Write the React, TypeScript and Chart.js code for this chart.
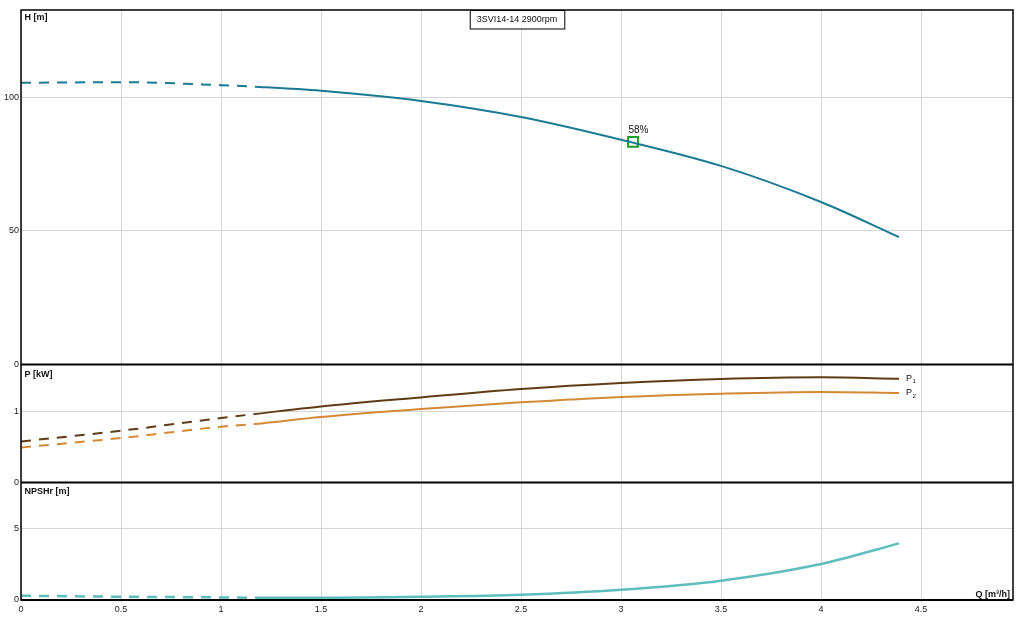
import React, { useEffect, useRef } from 'react'
import Chart from 'chart.js/auto'

// flow points (m³/h)
const flow = [0, 0.5, 1, 1.17, 1.5, 2, 2.5, 3, 3.5, 4, 4.39]
const head = [105.4, 105.6, 104.5, 103.9, 102.4, 98.6, 92.6, 84.1, 74.3, 60.8, 47.7]
const powerP1 = [0.577, 0.728, 0.907, 0.963, 1.07, 1.197, 1.315, 1.4, 1.456, 1.479, 1.46]
const powerP2 = [0.493, 0.625, 0.785, 0.823, 0.921, 1.034, 1.127, 1.203, 1.249, 1.273, 1.259]
const npshr = [0.3, 0.23, 0.18, 0.16, 0.16, 0.23, 0.37, 0.72, 1.36, 2.53, 3.98]

const dashedUntil = 1.17
const dutyQ = 3.06
const dutyH = 83.3
const dutyLabel = '58%'

const xTicks = [0, 0.5, 1, 1.5, 2, 2.5, 3, 3.5, 4, 4.5]
const headTicks = [0, 50, 100]
const powerTicks = [0, 1]
const npshTicks = [0, 5]

const title = '3SVI14-14 2900rpm'

const FONT = '"Liberation Sans", Arial, sans-serif'

const pts = (ys: number[]) => flow.map((x, i) => ({ x, y: ys[i] }))

const dashSegment = {
  borderDash: (ctx: any) => (ctx.p1.parsed.x <= dashedUntil + 1e-6 ? [10, 8] : undefined)
}

const setTicks = (values: number[]) => (scale: any) => {
  scale.ticks = values.map((v) => ({ value: v }))
}

const overlay = {
  id: 'overlay',
  afterDraw(chart: any) {
    const { ctx, chartArea: a, scales } = chart
    ctx.save()

    // panel dividers
    ctx.strokeStyle = '#000'
    ctx.lineWidth = 2
    ;[scales.yH.bottom, scales.yP.bottom, a.bottom].forEach((y: number) => {
      ctx.beginPath()
      ctx.moveTo(a.left, y)
      ctx.lineTo(a.right, y)
      ctx.stroke()
    })
    ctx.lineWidth = 1.5
    ctx.strokeRect(a.left, a.top, a.right - a.left, a.bottom - a.top)

    // title box
    ctx.font = '9px ' + FONT
    const tw = ctx.measureText(title).width
    const bw = tw + 14
    const bx = (a.left + a.right) / 2 - bw / 2
    ctx.fillStyle = '#fff'
    ctx.fillRect(bx, a.top, bw, 19)
    ctx.lineWidth = 1
    ctx.strokeRect(bx + 0.5, a.top + 0.5, bw, 18.5)
    ctx.fillStyle = '#111'
    ctx.textBaseline = 'middle'
    ctx.textAlign = 'center'
    ctx.fillText(title, (a.left + a.right) / 2, a.top + 10)

    // panel labels
    ctx.font = 'bold 9px ' + FONT
    ctx.textAlign = 'left'
    ctx.textBaseline = 'top'
    ctx.fillText('H [m]', a.left + 3.5, scales.yH.top + 3.5)
    ctx.fillText('P [kW]', a.left + 3.5, scales.yP.top + 5)
    ctx.fillText('NPSHr [m]', a.left + 3.5, scales.yN.top + 5)
    ctx.textAlign = 'right'
    ctx.textBaseline = 'alphabetic'
    ctx.fillText('Q [m³/h]', a.right - 3, a.bottom - 3)

    // duty point label
    const mx = scales.x.getPixelForValue(dutyQ)
    const my = scales.yH.getPixelForValue(dutyH)
    ctx.font = '10px ' + FONT
    ctx.textAlign = 'left'
    ctx.fillText(dutyLabel, mx - 4.5, my - 9)

    // P1 / P2 end labels
    const last = flow.length - 1
    const ex = scales.x.getPixelForValue(flow[last]) + 7
    ;[
      [powerP1[last], '1'],
      [powerP2[last], '2']
    ].forEach(([v, sub]) => {
      const y = scales.yP.getPixelForValue(v as number)
      ctx.font = '9px ' + FONT
      ctx.textBaseline = 'middle'
      ctx.fillText('P', ex, y)
      const pw = ctx.measureText('P').width
      ctx.font = '6px ' + FONT
      ctx.fillText(sub as string, ex + pw + 0.5, y + 3)
    })

    ctx.restore()
  }
}

const PumpCurveChart: React.FC = () => {
  const canvasRef = useRef<HTMLCanvasElement | null>(null)

  useEffect(() => {
    if (!canvasRef.current) return
    Chart.defaults.font.family = FONT

    const tickFont = { size: 9, family: FONT }
    const grid = { color: '#d6d6d6', lineWidth: 1, drawTicks: false }
    const fixWidth = (s: any) => {
      s.width = 21
    }

    const chart = new Chart(canvasRef.current, {
      type: 'line',
      data: {
        datasets: [
          {
            label: 'H',
            data: pts(head),
            yAxisID: 'yH',
            borderColor: '#1b7a94',
            borderWidth: 2,
            pointRadius: 0,
            cubicInterpolationMode: 'monotone',
            segment: dashSegment
          },
          {
            label: 'P1',
            data: pts(powerP1),
            yAxisID: 'yP',
            borderColor: '#603c16',
            borderWidth: 2,
            pointRadius: 0,
            cubicInterpolationMode: 'monotone',
            segment: dashSegment
          },
          {
            label: 'P2',
            data: pts(powerP2),
            yAxisID: 'yP',
            borderColor: '#d48934',
            borderWidth: 2,
            pointRadius: 0,
            cubicInterpolationMode: 'monotone',
            segment: dashSegment
          },
          {
            label: 'NPSHr',
            data: pts(npshr),
            yAxisID: 'yN',
            borderColor: '#5ebdbd',
            borderWidth: 2.5,
            pointRadius: 0,
            cubicInterpolationMode: 'monotone',
            segment: dashSegment
          },
          {
            label: 'duty',
            data: [{ x: dutyQ, y: dutyH }],
            yAxisID: 'yH',
            showLine: false,
            pointStyle: 'rect',
            pointRadius: 7,
            pointBorderWidth: 2,
            pointBorderColor: '#1f9b2a',
            pointBackgroundColor: 'rgba(0,0,0,0)'
          }
        ]
      },
      options: {
        animation: false,
        responsive: true,
        maintainAspectRatio: false,
        layout: { padding: { top: 10, right: 21, left: 0, bottom: 0 } },
        plugins: {
          legend: { display: false },
          tooltip: { enabled: false }
        },
        scales: {
          x: {
            type: 'linear',
            min: 0,
            max: 4.96,
            afterBuildTicks: setTicks(xTicks),
            afterFit: (s: any) => {
              s.height = 25
            },
            grid,
            border: { display: false },
            ticks: { font: tickFont, color: '#222', padding: 4, maxRotation: 0, callback: (v: any) => String(v) }
          },
          // stacked left axes are laid out bottom-up in definition order
          yN: {
            type: 'linear',
            position: 'left',
            stack: 'panels',
            stackWeight: 117.3,
            min: 0,
            max: 8.26,
            afterBuildTicks: setTicks(npshTicks),
            afterFit: fixWidth,
            grid,
            border: { display: false },
            ticks: { font: tickFont, color: '#222', padding: 2 }
          },
          yP: {
            type: 'linear',
            position: 'left',
            stack: 'panels',
            stackWeight: 117.7,
            min: 0,
            max: 1.658,
            afterBuildTicks: setTicks(powerTicks),
            afterFit: fixWidth,
            grid,
            border: { display: false },
            ticks: { font: tickFont, color: '#222', padding: 2 }
          },
          yH: {
            type: 'linear',
            position: 'left',
            stack: 'panels',
            stackWeight: 354,
            min: 0,
            max: 132.6,
            afterBuildTicks: setTicks(headTicks),
            afterFit: fixWidth,
            grid,
            border: { display: false },
            ticks: { font: tickFont, color: '#222', padding: 2 }
          }
        }
      } as any,
      plugins: [overlay]
    })

    return () => {
      chart.destroy()
    }
  }, [])

  return (
    <div style={{ position: 'fixed', left: 0, top: 0, width: 1034, height: 625, background: '#fff' }}>
      <canvas ref={canvasRef} />
    </div>
  )
}

export default function App() {
  return <PumpCurveChart />
}
